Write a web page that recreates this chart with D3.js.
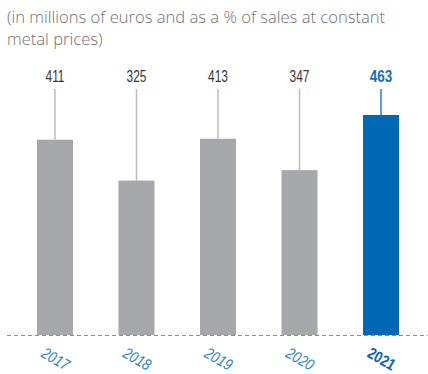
<!DOCTYPE html>
<html>
<head>
<meta charset="utf-8">
<script src="https://cdn.jsdelivr.net/npm/d3@7"></script>
<style>
  html, body { margin: 0; padding: 0; background: #ffffff; }
  svg { display: block; }
</style>
</head>
<body>
<svg id="chart" width="428" height="374"></svg>
<script>
// Annual values (millions of euros)
const years = ["2017", "2018", "2019", "2020", "2021"];
const values = [411, 325, 413, 347, 463];
const highlightYear = "2021";
const titleLines = [
  "(in millions of euros and as a % of sales at constant",
  "metal prices)"
];

const svg = d3.select("#chart");
const W = 428, H = 374;
const baseY = 335;
const labelY = 81;

const x = d3.scaleBand()
  .domain(years)
  .range([14.25, 421.75])
  .paddingInner(0.558)
  .paddingOuter(0.279);

const y = d3.scaleLinear()
  .domain([0, d3.max(values)])
  .range([baseY, 115]);

const data = years.map((yr, i) => ({ year: yr, value: values[i], hi: yr === highlightYear }));

// Subtitle
svg.append("g").selectAll("text")
  .data(titleLines)
  .join("text")
  .attr("x", 7)
  .attr("y", (d, i) => 23 + i * 22)
  .attr("font-family", "'Open Sans', 'DejaVu Sans', sans-serif")
  .attr("font-weight", 300)
  .attr("font-size", 16.6)
  .attr("fill", "#707173")
  .text(d => d);

// Dashed baseline
svg.append("line")
  .attr("x1", 7).attr("x2", W)
  .attr("y1", baseY + 0.5).attr("y2", baseY + 0.5)
  .attr("stroke", "#8a8b8d")
  .attr("stroke-width", 1)
  .attr("stroke-dasharray", "4,3");

// Bars
svg.append("g").selectAll("rect")
  .data(data)
  .join("rect")
  .attr("x", d => x(d.year))
  .attr("width", x.bandwidth())
  .attr("y", d => y(d.value))
  .attr("height", d => y(0) - y(d.value))
  .attr("fill", d => d.hi ? "#0068b4" : "#a7a8ab");

// Leader lines from value labels to bar tops
svg.append("g").selectAll("line")
  .data(data)
  .join("line")
  .attr("x1", d => x(d.year) + x.bandwidth() / 2)
  .attr("x2", d => x(d.year) + x.bandwidth() / 2)
  .attr("y1", 89)
  .attr("y2", d => y(d.value))
  .attr("stroke", d => d.hi ? "#2b7cc0" : "#bcbdbf")
  .attr("stroke-width", 1.5);

// Value labels
svg.append("g").selectAll("text")
  .data(data)
  .join("text")
  .attr("transform", d => `translate(${x(d.year) + x.bandwidth() / 2},${labelY + 0.5}) scale(${d.hi ? 0.82 : 0.72},1)`)
  .attr("text-anchor", "middle")
  .attr("font-family", "'Liberation Sans', Arial, sans-serif")
  .attr("font-size", 16.5)
  .attr("font-weight", d => d.hi ? 700 : 400)
  .attr("fill", d => d.hi ? "#1a6fb8" : "#38383a")
  .text(d => d.value);

// Year labels (rotated)
svg.append("g").selectAll("text")
  .data(data)
  .join("text")
  .attr("transform", d => `translate(${x(d.year) + x.bandwidth() / 2},${360}) rotate(30) scale(0.82,1)`)
  .attr("text-anchor", "middle")
  .attr("dominant-baseline", "middle")
  .attr("font-family", "'Liberation Sans', Arial, sans-serif")
  .attr("font-size", 16)
  .attr("font-style", d => d.hi ? "normal" : "italic")
  .attr("font-weight", d => d.hi ? 700 : 400)
  .attr("fill", d => d.hi ? "#0d63ad" : "#2f86c8")
  .text(d => d.year);
</script>
</body>
</html>
